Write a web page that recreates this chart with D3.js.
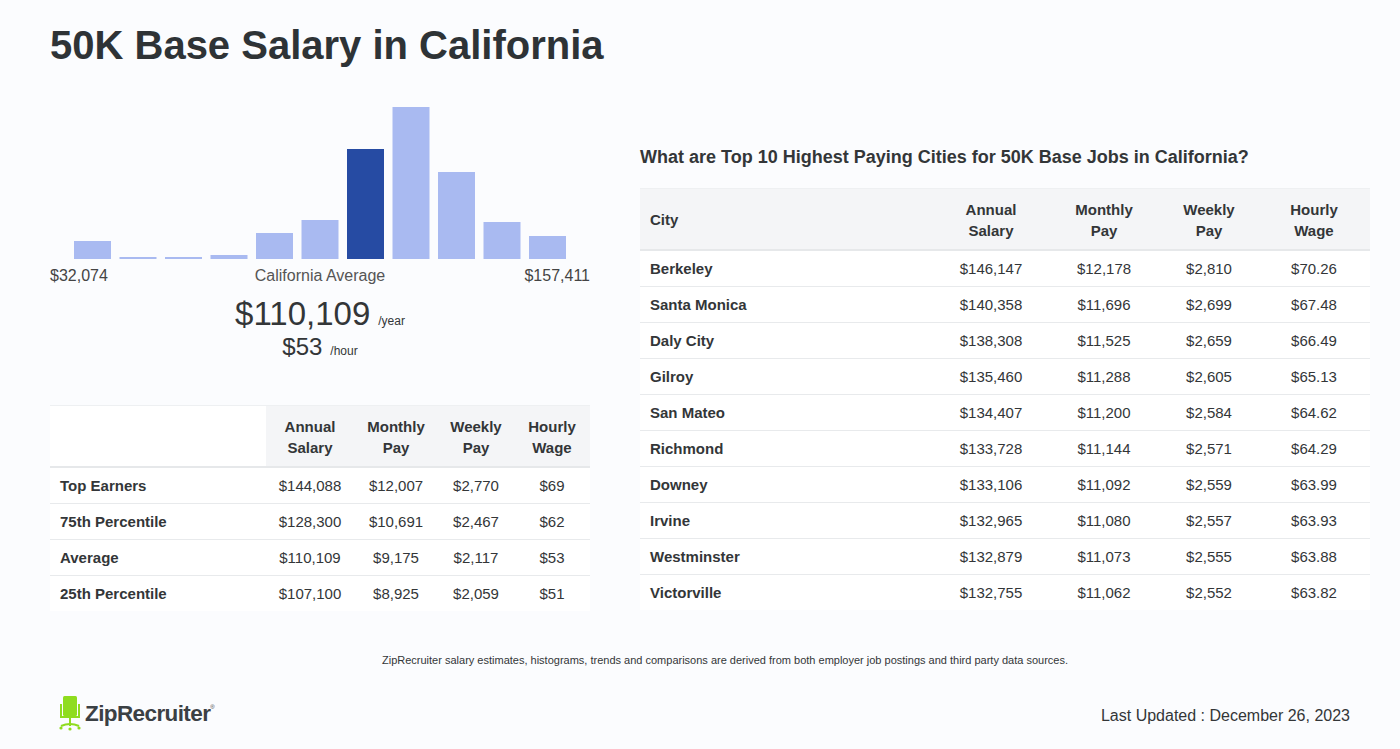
<!DOCTYPE html>
<html><head><meta charset="utf-8">
<script src="https://cdn.jsdelivr.net/npm/d3@7"></script>
<style>
html,body{margin:0;padding:0;background:#fbfcfe;}
svg{display:block;font-family:"Liberation Sans",Arial,Helvetica,sans-serif;}
</style></head>
<body>
<svg id="c" width="1400" height="749"></svg>
<script>
// ---- data ----
const histBins = [0,1,2,3,4,5,6,7,8,9,10];
const histValues = [18, 2, 2, 4, 26, 39, 110, 152, 87, 37, 23];
const averageBin = 6;
const rangeLow = "$32,074";
const rangeHigh = "$157,411";
const avgYear = "$110,109";
const avgHour = "$53";

const sumHeaders = [["Annual","Salary"],["Monthly","Pay"],["Weekly","Pay"],["Hourly","Wage"]];
const sumLabels = ["Top Earners","75th Percentile","Average","25th Percentile"];
const sumAnnual = ["$144,088","$128,300","$110,109","$107,100"];
const sumMonthly = ["$12,007","$10,691","$9,175","$8,925"];
const sumWeekly = ["$2,770","$2,467","$2,117","$2,059"];
const sumHourly = ["$69","$62","$53","$51"];

const cities = ["Berkeley","Santa Monica","Daly City","Gilroy","San Mateo","Richmond","Downey","Irvine","Westminster","Victorville"];
const cityAnnual = ["$146,147","$140,358","$138,308","$135,460","$134,407","$133,728","$133,106","$132,965","$132,879","$132,755"];
const cityMonthly = ["$12,178","$11,696","$11,525","$11,288","$11,200","$11,144","$11,092","$11,080","$11,073","$11,062"];
const cityWeekly = ["$2,810","$2,699","$2,659","$2,605","$2,584","$2,571","$2,559","$2,557","$2,555","$2,552"];
const cityHourly = ["$70.26","$67.48","$66.49","$65.13","$64.62","$64.29","$63.99","$63.93","$63.88","$63.82"];

const svg = d3.select("#c");
const txt = "#333638";

// title
svg.append("text").attr("x",50).attr("y",59).attr("font-size",40).attr("font-weight","bold")
  .attr("fill","#2e3336").text("50K Base Salary in California");

// histogram
const x = d3.scaleBand().domain(histBins).range([74,566]).paddingInner(0.187).paddingOuter(0);
const y = d3.scaleLinear().domain([0,152]).range([259,107]);
svg.append("g").selectAll("rect").data(histValues).join("rect")
  .attr("x",(d,i)=>x(histBins[i])).attr("width",x.bandwidth())
  .attr("y",d=>y(d)).attr("height",d=>259-y(d))
  .attr("fill",(d,i)=>i===averageBin?"#264ba3":"#a9baf1");

svg.append("text").attr("x",50).attr("y",281).attr("font-size",16).attr("fill","#444").text(rangeLow);
svg.append("text").attr("x",320).attr("y",281).attr("font-size",16).attr("fill","#555").attr("text-anchor","middle").text("California Average");
svg.append("text").attr("x",590).attr("y",281).attr("font-size",16).attr("fill","#444").attr("text-anchor","end").text(rangeHigh);

const t1 = svg.append("text").attr("x",320).attr("y",325).attr("text-anchor","middle").attr("fill",txt);
t1.append("tspan").attr("font-size",33).text(avgYear);
t1.append("tspan").attr("font-size",12).attr("dx",8).text("/year");
const t2 = svg.append("text").attr("x",320).attr("y",355).attr("text-anchor","middle").attr("fill",txt);
t2.append("tspan").attr("font-size",24).text(avgHour);
t2.append("tspan").attr("font-size",12).attr("dx",8).text("/hour");

// generic table drawer
function drawTable(g, opts){
  const {x0,x1,y0,headH,rowH,labels,cols,colX,headers,firstHead,headFillFrom} = opts;
  const n = labels.length;
  g.append("rect").attr("x",x0).attr("y",y0).attr("width",x1-x0).attr("height",headH+rowH*n).attr("fill","#ffffff");
  g.append("rect").attr("x",headFillFrom).attr("y",y0).attr("width",x1-headFillFrom).attr("height",headH).attr("fill","#f4f5f7");
  g.append("line").attr("x1",x0).attr("x2",x1).attr("y1",y0+0.5).attr("y2",y0+0.5).attr("stroke","#eef0f2");
  g.append("line").attr("x1",x0).attr("x2",x1).attr("y1",y0+headH).attr("y2",y0+headH).attr("stroke","#e6e8ea").attr("stroke-width",2);
  headers.forEach((h,i)=>{
    const t = g.append("text").attr("x",colX[i]).attr("y",y0+headH/2-4).attr("text-anchor","middle")
      .attr("font-size",15).attr("font-weight","bold").attr("fill",txt);
    t.append("tspan").attr("x",colX[i]).text(h[0]);
    t.append("tspan").attr("x",colX[i]).attr("dy",21).text(h[1]);
  });
  if(firstHead){
    g.append("text").attr("x",x0+10).attr("y",y0+headH/2+6).attr("font-size",15).attr("font-weight","bold").attr("fill",txt).text(firstHead);
  }
  labels.forEach((lab,r)=>{
    const ry = y0+headH+rowH*r;
    if(r>0) g.append("line").attr("x1",x0).attr("x2",x1).attr("y1",ry+0.5).attr("y2",ry+0.5).attr("stroke","#e8eaec");
    g.append("text").attr("x",x0+10).attr("y",ry+rowH/2+6).attr("font-size",15).attr("font-weight","bold").attr("fill",txt).text(lab);
    cols.forEach((c,i)=>{
      g.append("text").attr("x",colX[i]).attr("y",ry+rowH/2+6).attr("text-anchor","middle").attr("font-size",15).attr("fill",txt).text(c[r]);
    });
  });
}

drawTable(svg.append("g"),{x0:50,x1:590,y0:405,headH:62,rowH:36,labels:sumLabels,
  cols:[sumAnnual,sumMonthly,sumWeekly,sumHourly],colX:[310,396,476,552],headers:sumHeaders,firstHead:null,headFillFrom:266});

svg.append("text").attr("x",640).attr("y",163).attr("font-size",18).attr("font-weight","bold").attr("fill",txt)
  .text("What are Top 10 Highest Paying Cities for 50K Base Jobs in California?");

drawTable(svg.append("g"),{x0:640,x1:1370,y0:188,headH:62,rowH:36,labels:cities,
  cols:[cityAnnual,cityMonthly,cityWeekly,cityHourly],colX:[991,1104,1209,1314],headers:sumHeaders,firstHead:"City",headFillFrom:640});

// footer
svg.append("text").attr("x",725).attr("y",664).attr("text-anchor","middle").attr("font-size",11).attr("fill",txt)
  .text("ZipRecruiter salary estimates, histograms, trends and comparisons are derived from both employer job postings and third party data sources.");
svg.append("text").attr("x",1350).attr("y",721).attr("text-anchor","end").attr("font-size",16).attr("fill",txt)
  .text("Last Updated : December 26, 2023");

// logo
const lg = svg.append("g").attr("fill","#8fdc1f").attr("stroke","none");
lg.append("rect").attr("x",63).attr("y",696).attr("width",14).attr("height",20).attr("rx",1.5);
lg.append("path").attr("d","M60,704 h2 v12 h16 v-12 h2 v14 h-20 z");
lg.append("rect").attr("x",69).attr("y",718).attr("width",2).attr("height",8);
lg.append("path").attr("d","M61,726 q9,-4 18,0").attr("fill","none").attr("stroke","#8fdc1f").attr("stroke-width",2);
lg.append("circle").attr("cx",61).attr("cy",728).attr("r",1.6);
lg.append("circle").attr("cx",70).attr("cy",729).attr("r",1.6);
lg.append("circle").attr("cx",79).attr("cy",728).attr("r",1.6);
const lt = svg.append("text").attr("x",85).attr("y",721).attr("font-size",22.5).attr("font-weight","bold").attr("fill","#3b4044").attr("letter-spacing",-0.6);
lt.append("tspan").text("ZipRecruiter");
lt.append("tspan").attr("font-size",6).attr("dy",-12).attr("font-weight","normal").text("®");
</script>
</body></html>
